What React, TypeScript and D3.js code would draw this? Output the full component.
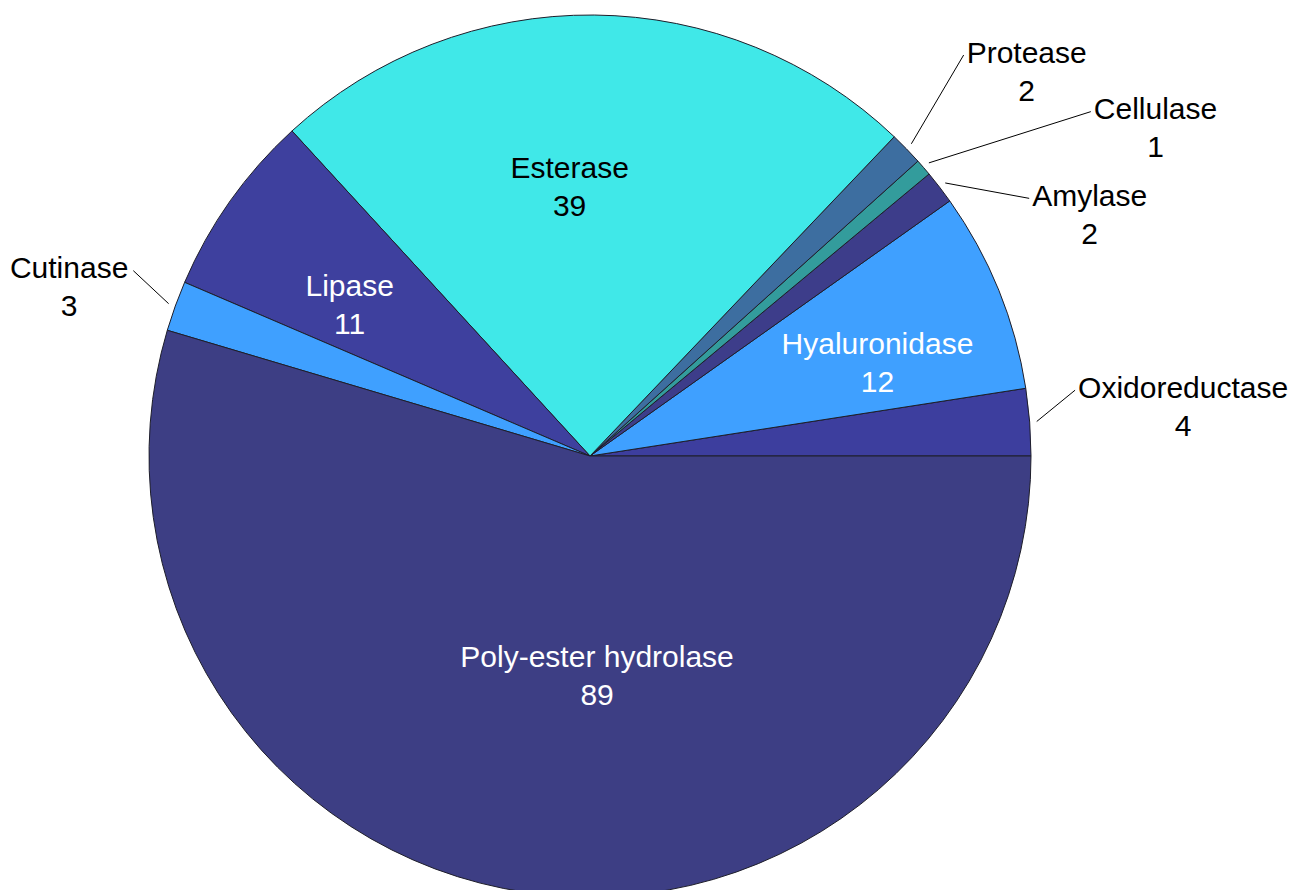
import { useEffect, useRef } from "react";
import * as d3 from "d3";

// slices, counter-clockwise from 3 o'clock
const names = ["Oxidoreductase", "Hyaluronidase", "Amylase", "Cellulase", "Protease", "Esterase", "Lipase", "Cutinase", "Poly-ester hydrolase"];
const counts = [4, 12, 2, 1, 2, 39, 11, 3, 89];
const colors = ["#3d3e9e", "#3fa0ff", "#3d3d8a", "#339c9c", "#3d6ea0", "#40e8e8", "#3e409e", "#3fa0ff", "#3d3e84"];

// label placement: inside or outside, radius fraction, angle nudge (deg)
const outside = [true, false, true, true, true, false, false, true, false];
const labelRadius = [1.354, 0.7, 1.278, 1.505, 1.349, 0.655, 0.668, 1.256, 0.454];
const labelNudge = [2.2, -0.7, -10, -9.3, -1.4, 4.6, 0, 0, 10.3];
const textColors = ["#000", "#fff", "#000", "#000", "#000", "#000", "#fff", "#000", "#fff"];

const App = () => {
  const ref = useRef<SVGSVGElement>(null);

  useEffect(() => {
    const width = 1290;
    const height = 890;
    const cx = 590;
    const cy = 456;
    const radius = 441;
    const fontSize = 30;

    const svg = d3.select(ref.current);
    svg.selectAll("*").remove();
    svg.attr("width", width).attr("height", height);

    const data = names.map((n, i) => ({ name: n, value: counts[i], i }));

    const pie = d3.pie<any>()
      .sort(null)
      .value(d => d.value)
      .startAngle(Math.PI / 2)
      .endAngle(Math.PI / 2 - 2 * Math.PI);

    const arcs = pie(data);
    const arc = d3.arc<any>().innerRadius(0).outerRadius(radius);

    const g = svg.append("g").attr("transform", `translate(${cx},${cy})`);

    g.selectAll("path.slice")
      .data(arcs)
      .join("path")
      .attr("class", "slice")
      .attr("d", arc)
      .attr("fill", d => colors[d.data.i])
      .attr("stroke", "#1e1e2a")
      .attr("stroke-width", 1);

    // d3 angle -> point (clockwise from 12 o'clock)
    const pt = (a: number, r: number) => [Math.sin(a) * r, -Math.cos(a) * r];

    arcs.forEach(d => {
      const i = d.data.i;
      const mid = (d.startAngle + d.endAngle) / 2;
      const la = mid - (labelNudge[i] * Math.PI) / 180;
      const [lx, ly] = pt(la, labelRadius[i] * radius);

      const t = g.append("text")
        .attr("text-anchor", "middle")
        .attr("font-family", "'Liberation Sans', Arial, sans-serif")
        .attr("font-size", fontSize)
        .attr("fill", textColors[i]);
      t.append("tspan").attr("x", lx).attr("y", ly + 10.5).text(d.data.name);
      t.append("tspan").attr("x", lx).attr("y", ly + 10.5 + 38).text(String(d.data.value));

      if (outside[i]) {
        const w = (t.select("tspan").node() as SVGTSpanElement).getComputedTextLength();
        const [sx, sy] = pt(mid, radius * 1.016);
        const ex = lx > 0 ? lx - w / 2 - 3 : lx + w / 2 + 5;
        const ey = ly + 3;
        g.append("line")
          .attr("x1", sx).attr("y1", sy)
          .attr("x2", ex).attr("y2", ey)
          .attr("stroke", "#000")
          .attr("stroke-width", 1);
      }
    });
  }, []);

  return (
    <svg ref={ref} style={{ position: "absolute", left: 0, top: 0, background: "#fff" }} />
  );
};

export default App;
